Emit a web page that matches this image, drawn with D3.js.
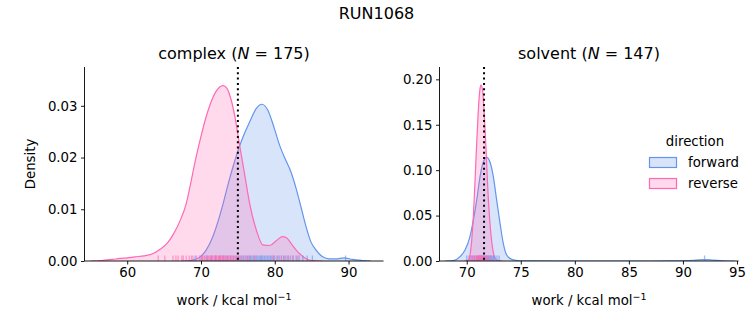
<!DOCTYPE html>
<html><head><meta charset="utf-8">
<script src="https://cdn.jsdelivr.net/npm/d3@7"></script>
<style>body{margin:0;background:#fff}svg{display:block}text{font-family:"DejaVu Sans",sans-serif;fill:#000}</style>
</head><body>
<script>
// ---- data ----
const suptitle = "RUN1068";
const panels = ["complex", "solvent"];
const panelN = [175, 147];
const directions = ["forward", "reverse"];
const colors = ["#6495ED", "#FF69B4"];
const markerLine = [75.0, 71.6];

const complexXTicks = [60, 70, 80, 90];
const complexYTicks = [0, 0.01, 0.02, 0.03];
const solventXTicks = [70, 75, 80, 85, 90, 95];
const solventYTicks = [0, 0.05, 0.10, 0.15, 0.20];

// KDE curves (work, density)
const complexForwardX = [67.3, 68.2, 68.9, 69.8, 70.7, 71.6, 72.3, 73.0, 73.65, 74.4, 75.2, 75.9, 76.6, 77.5, 78.25, 79.05, 79.95, 80.65, 81.3, 82.2, 82.9, 83.6, 84.25, 84.9, 85.6, 86.5, 87.4, 88.3, 89.4, 90.5, 91.9, 93.0];
const complexForwardD = [0, 0.00005, 0.0002, 0.0007, 0.0021, 0.0047, 0.0076, 0.0111, 0.0147, 0.0185, 0.0221, 0.0247, 0.0269, 0.0295, 0.0303, 0.0292, 0.0256, 0.0224, 0.0201, 0.0172, 0.0140, 0.0102, 0.0066, 0.0037, 0.0021, 0.0008, 0.0004, 0.0004, 0.0006, 0.0003, 0.0001, 0];
const complexReverseX = [55.0, 56.5, 58.0, 59.0, 60.0, 61.0, 62.3, 63.6, 64.5, 65.4, 66.3, 67.2, 68.0, 68.6, 69.2, 69.9, 70.6, 71.3, 72.0, 72.5, 73.0, 73.5, 74.0, 74.6, 75.2, 75.9, 76.6, 77.5, 78.4, 79.3, 80.2, 81.0, 81.6, 82.2, 83.3, 84.0, 84.7, 85.5, 86.5];
const complexReverseD = [0, 0.0001, 0.0003, 0.0005, 0.0006, 0.0008, 0.0010, 0.0015, 0.0023, 0.0034, 0.0053, 0.0079, 0.0111, 0.0150, 0.0192, 0.0235, 0.0274, 0.0305, 0.0327, 0.0336, 0.0339, 0.0334, 0.0316, 0.0279, 0.0227, 0.0169, 0.0111, 0.0060, 0.0031, 0.0030, 0.0039, 0.0047, 0.0045, 0.0034, 0.0015, 0.0007, 0.0002, 0.00005, 0];
const solventForwardX = [68.0, 68.76, 69.38, 69.84, 70.3, 70.61, 70.92, 71.23, 71.53, 71.85, 72.15, 72.46, 72.77, 73.08, 73.38, 73.7, 74.16, 74.93, 76.0, 80.0, 85.0, 89.0, 90.3, 91.2, 92.0, 92.8, 93.7, 94.8];
const solventForwardD = [0, 0.0005, 0.0048, 0.0121, 0.0268, 0.045, 0.067, 0.093, 0.109, 0.1142, 0.109, 0.093, 0.067, 0.0415, 0.0195, 0.0066, 0.0018, 0.0003, 0.0001, 0, 0, 0.0001, 0.0004, 0.0010, 0.0016, 0.0010, 0.0003, 0];
const solventReverseX = [69.8, 70.15, 70.46, 70.61, 70.77, 70.92, 71.07, 71.23, 71.32, 71.44, 71.6, 71.76, 71.94, 72.15, 72.37, 72.62, 72.92, 73.3];
const solventReverseD = [0, 0.001, 0.023, 0.0488, 0.089, 0.1296, 0.166, 0.190, 0.1938, 0.190, 0.166, 0.1296, 0.0818, 0.0415, 0.0158, 0.003, 0.0002, 0];

// rug values (individual work values, estimated)
const complexForwardRug = [69.2, 70.1, 70.8, 71.4, 72.0, 72.6, 73.1, 73.6, 74.0, 74.4, 74.8, 75.1, 75.4, 75.7, 76.0, 76.3, 76.5, 76.7, 76.9, 77.1, 77.3, 77.5, 77.7, 77.9, 78.1, 78.2, 78.4, 78.6, 78.8, 79.0, 79.2, 79.4, 79.6, 79.8, 80.0, 80.3, 80.6, 80.9, 81.2, 81.5, 81.8, 82.1, 82.5, 82.9, 83.3, 83.8, 84.4, 85.1, 89.6];
const complexReverseRug = [64.2, 65.1, 66.2, 66.6, 66.9, 67.4, 67.6, 68.0, 68.4, 68.7, 68.9, 69.4, 69.8, 70.0, 70.2, 70.4, 70.5, 70.7, 70.9, 71.0, 71.2, 71.3, 71.5, 71.6, 71.8, 71.9, 72.0, 72.1, 72.3, 72.4, 72.5, 72.6, 72.8, 72.9, 73.0, 73.1, 73.3, 73.4, 73.5, 73.7, 73.8, 74.0, 74.1, 74.3, 74.5, 74.7, 74.9, 75.2, 75.5, 75.8, 76.2, 76.6, 77.3, 79.8, 80.4, 80.9, 81.3, 81.8, 82.4, 83.1];
const solventForwardRug = [70.0, 70.3, 70.5, 70.7, 70.9, 71.0, 71.1, 71.2, 71.3, 71.4, 71.5, 71.6, 71.7, 71.8, 71.9, 72.0, 72.1, 72.2, 72.3, 72.4, 72.5, 72.6, 72.8, 73.0, 92.0];
const solventReverseRug = [70.2, 70.4, 70.5, 70.6, 70.7, 70.8, 70.9, 71.0, 71.05, 71.1, 71.15, 71.2, 71.25, 71.3, 71.35, 71.4, 71.45, 71.5, 71.6, 71.7, 71.8, 71.9, 72.0, 72.2];

// ---- drawing ----
const W = 753, H = 325;
const svg = d3.select("body").append("svg").attr("width", W).attr("height", H);

svg.append("text").attr("x", W / 2).attr("y", 19).attr("text-anchor", "middle")
  .style("font-size", "16px").text(suptitle);

const axTop = 67, axBottom = 261;
const specs = [
  { x0: 84.5, x1: 383.5, xd: [54.21, 94.74], yd: [0, 0.0375], xt: complexXTicks, yt: complexYTicks, yf: ".2f",
    curves: [[complexForwardX, complexForwardD], [complexReverseX, complexReverseD]],
    rugs: [complexForwardRug, complexReverseRug] },
  { x0: 439.5, x1: 738.5, xd: [67.48, 95.14], yd: [0, 0.2136], xt: solventXTicks, yt: solventYTicks, yf: ".2f",
    curves: [[solventForwardX, solventForwardD], [solventReverseX, solventReverseD]],
    rugs: [solventForwardRug, solventReverseRug] }
];

specs.forEach((s, i) => {
  const x = d3.scaleLinear().domain(s.xd).range([s.x0, s.x1]);
  const y = d3.scaleLinear().domain(s.yd).range([axBottom, axTop]);
  const g = svg.append("g");
  const clip = "clip" + i;
  svg.append("clipPath").attr("id", clip).append("rect")
    .attr("x", s.x0).attr("y", axTop).attr("width", s.x1 - s.x0).attr("height", axBottom - axTop);
  const pg = g.append("g").attr("clip-path", `url(#${clip})`);

  s.curves.forEach(([xs, ds], k) => {
    const pts = xs.map((v, j) => [v, ds[j]]);
    const area = d3.area().x(d => x(d[0])).y0(y(0)).y1(d => y(d[1])).curve(d3.curveMonotoneX);
    const line = d3.line().x(d => x(d[0])).y(d => y(d[1])).curve(d3.curveMonotoneX);
    pg.append("path").attr("d", area(pts)).attr("fill", colors[k]).attr("fill-opacity", 0.25);
    pg.append("path").attr("d", line(pts)).attr("fill", "none").attr("stroke", colors[k]).attr("stroke-width", 1.2);
  });

  s.rugs.forEach((r, k) => {
    pg.selectAll(null).data(r).enter().append("line")
      .attr("x1", d => x(d)).attr("x2", d => x(d))
      .attr("y1", axBottom).attr("y2", axBottom - 5.5)
      .attr("stroke", colors[k]).attr("stroke-opacity", 0.6).attr("stroke-width", 1.3);
  });

  g.append("line").attr("x1", x(markerLine[i])).attr("x2", x(markerLine[i]))
    .attr("y1", axTop).attr("y2", axBottom)
    .attr("stroke", "#000").attr("stroke-width", 2).attr("stroke-dasharray", "2,3.3");

  const xa = g.append("g").attr("transform", `translate(0,${axBottom})`)
    .call(d3.axisBottom(x).tickValues(s.xt).tickSize(3.5).tickPadding(3.5).tickSizeOuter(0));
  const ya = g.append("g").attr("transform", `translate(${s.x0},0)`)
    .call(d3.axisLeft(y).tickValues(s.yt).tickFormat(d3.format(s.yf)).tickSize(3.5).tickPadding(3.5).tickSizeOuter(0));
  [xa, ya].forEach(a => {
    a.selectAll("text").style("font-size", "13.3px").style("font-family", "DejaVu Sans");
    a.selectAll("line,path").attr("stroke", "#000").attr("stroke-width", 0.9);
  });
  xa.select(".domain").attr("d", `M${s.x0},0H${s.x1}`);
  ya.select(".domain").attr("d", `M0,${axBottom}V${axTop}`);

  const cx = (s.x0 + s.x1) / 2;
  const t = g.append("text").attr("x", cx).attr("y", 59).attr("text-anchor", "middle").style("font-size", "16px");
  t.append("tspan").text(panels[i] + " (");
  t.append("tspan").style("font-style", "italic").text("N");
  t.append("tspan").text(" = " + panelN[i] + ")");

  const xl = g.append("text").attr("x", cx).attr("y", 305).attr("text-anchor", "middle").style("font-size", "13.3px");
  xl.append("tspan").text("work / kcal mol");
  xl.append("tspan").attr("dy", -5).style("font-size", "9.5px").text("\u22121");
});

svg.append("text").attr("transform", "translate(35,164) rotate(-90)").attr("text-anchor", "middle")
  .style("font-size", "13.3px").text("Density");

// legend
const lg = svg.append("g");
lg.append("text").attr("x", 695).attr("y", 146).attr("text-anchor", "middle").style("font-size", "13.3px").text("direction");
directions.forEach((d, k) => {
  const yy = 157.5 + k * 21;
  lg.append("rect").attr("x", 649.5).attr("y", yy).attr("width", 27).attr("height", 10)
    .attr("fill", colors[k]).attr("fill-opacity", 0.25).attr("stroke", colors[k]).attr("stroke-width", 1.2);
  lg.append("text").attr("x", 688).attr("y", yy + 9.5).style("font-size", "13.3px").text(d);
});
</script>
</body></html>
